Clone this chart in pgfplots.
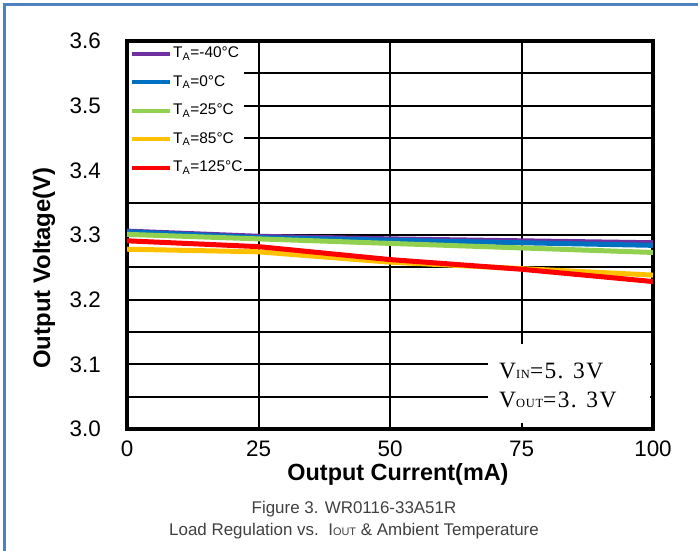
\documentclass[border=0pt]{standalone}
\usepackage{pgfplots}
\pgfplotsset{compat=1.18}
\usepackage{fontspec}
\setmainfont{Liberation Sans}
\newfontfamily\serifV{Liberation Serif}[LetterSpace=6]

\definecolor{cpurple}{HTML}{7030A0}
\definecolor{cblue}{HTML}{0070C0}
\definecolor{cgreen}{HTML}{92D050}
\definecolor{cyellow}{HTML}{FFC000}
\definecolor{cred}{HTML}{FF0000}
\definecolor{cborder}{HTML}{4F81BD}
\definecolor{ccap}{HTML}{404040}

\begin{document}
\begin{tikzpicture}[x=1bp,y=1bp]
\useasboundingbox (0,0) rectangle (698,551);
\draw[cborder, line width=3bp] (4.5,0) -- (4.5,546.5) -- (698,546.5);
\begin{axis}[
  at={(127bp,122bp)}, anchor=south west,
  scale only axis, width=526bp, height=388bp,
  xmin=0, xmax=100, ymin=3.0, ymax=3.6,
  xtick={0,25,50,75,100},
  xticklabels={0,25,50,75,100},
  ytick={3.0,3.1,3.2,3.3,3.4,3.5,3.6},
  yticklabels={3.0,3.1,3.2,3.3,3.4,3.5,3.6},
  minor ytick={3.05,3.15,3.25,3.35,3.45,3.55},
  major tick length=0pt, minor tick length=0pt,
  tick label style={font=\fontsize{22.5}{22.5}\selectfont, inner sep=0pt},
  yticklabel style={anchor=east, xshift=-26bp},
  xticklabel style={anchor=north, yshift=-12bp},
  xmajorgrids, ymajorgrids, yminorgrids,
  grid style={black, line width=2bp},
  major grid style={black, line width=2bp},
  minor grid style={black, line width=2bp},
  axis line style={black, line width=3.5bp},
  legend style={at={(rel axis cs:0,1)}, anchor=north west, xshift=2bp, yshift=-3.5bp,
    draw=none, fill=white, font=\fontsize{15.5}{15.5}\selectfont,
    inner xsep=1bp, inner ysep=1bp, row sep=12.5bp,
    nodes={inner sep=1bp, text height=11bp, text depth=3bp}},
  legend cell align=left,
  legend image code/.code={\draw[#1, line width=4bp] (0bp,0bp) -- (38bp,0bp);},
]
\addplot[cpurple, line width=5bp] coordinates {(0,3.306) (25,3.298) (50,3.294) (75,3.291) (100,3.288)};
\addlegendentry{T\textsubscript{A}=-40°C}
\addplot[cblue, line width=5bp] coordinates {(0,3.305) (25,3.296) (50,3.292) (75,3.288) (100,3.284)};
\addlegendentry{T\textsubscript{A}=0°C}
\addplot[cgreen, line width=5bp] coordinates {(0,3.301) (25,3.294) (50,3.287) (75,3.280) (100,3.273)};
\addlegendentry{T\textsubscript{A}=25°C}
\addplot[cyellow, line width=5bp] coordinates {(0,3.278) (25,3.274) (50,3.258) (75,3.248) (100,3.238)};
\addlegendentry{T\textsubscript{A}=85°C}
\addplot[cred, line width=5bp] coordinates {(0,3.291) (25,3.282) (50,3.262) (75,3.247) (100,3.228)};
\addlegendentry{T\textsubscript{A}=125°C}
\end{axis}
% annotation box
\fill[white] (488,128) rectangle (650,207);
\node[anchor=west, inner sep=0pt, font=\serifV\fontsize{23.5}{23.5}\selectfont] at (499,180)
  {V{\fontsize{12.5}{12.5}\selectfont IN}=5. 3V};
\node[anchor=west, inner sep=0pt, font=\serifV\fontsize{23.5}{23.5}\selectfont] at (499,151)
  {V{\fontsize{12.5}{12.5}\selectfont OUT}=3. 3V};
% axis labels
\node[font=\bfseries\fontsize{23.5}{23.5}\selectfont, inner sep=0pt] at (398,77) {Output Current(mA)};
\node[font=\bfseries\fontsize{24}{24}\selectfont, inner sep=0pt, rotate=90] at (44,283) {Output Voltage(V)};
% caption
\node[font=\fontsize{17}{17}\selectfont, text=ccap, inner sep=0pt, anchor=base] at (354,37) {Figure 3. WR0116-33A51R};
\node[font=\fontsize{17}{17}\selectfont, text=ccap, inner sep=0pt, anchor=base] at (354,15)
  {Load Regulation vs.\ \ I{\fontsize{11}{11}\selectfont OUT} \& Ambient Temperature};
\end{tikzpicture}
\end{document}
